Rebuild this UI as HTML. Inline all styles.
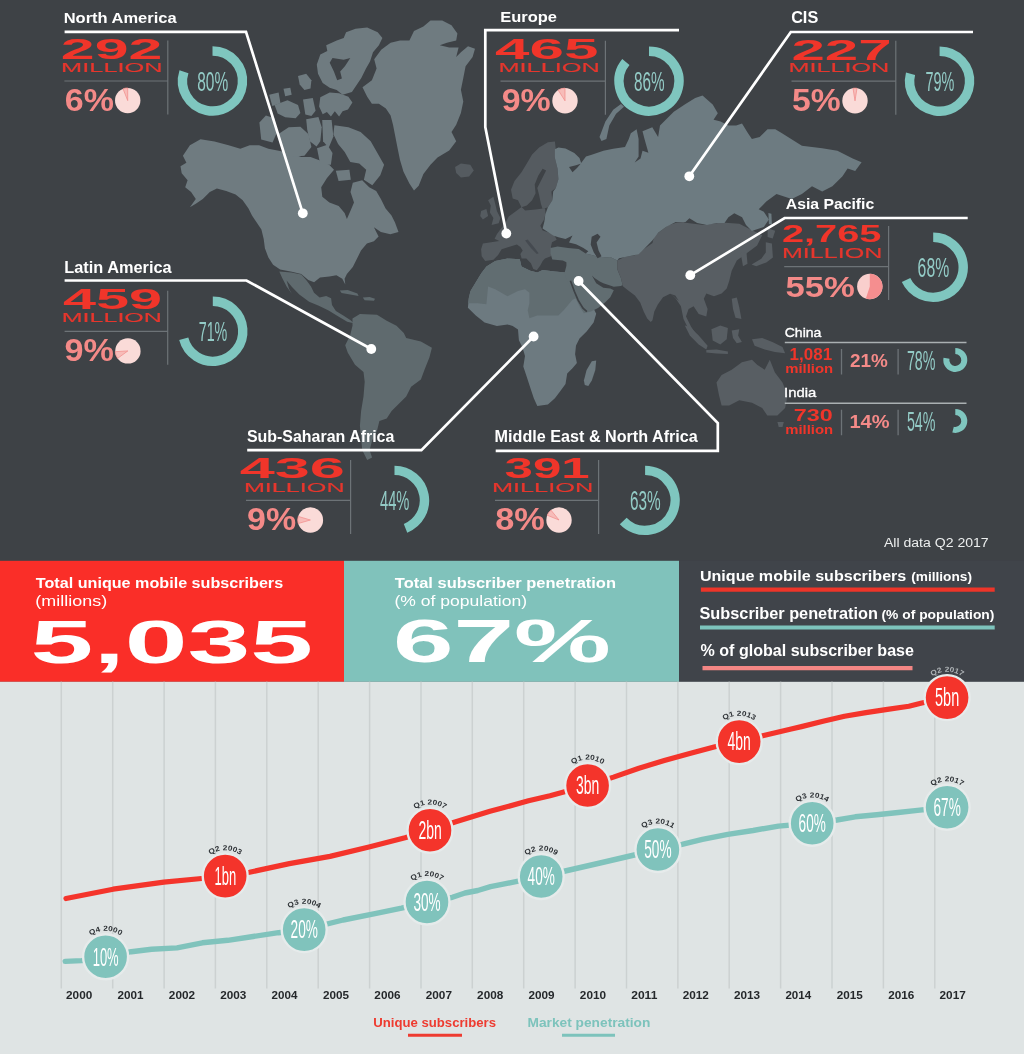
<!DOCTYPE html>
<html><head><meta charset="utf-8"><title>Global mobile subscribers</title>
<style>
html,body{margin:0;padding:0;background:#3e4246;}
body{width:1024px;height:1054px;overflow:hidden;font-family:"Liberation Sans",sans-serif;}
svg{display:block;font-family:"Liberation Sans",sans-serif;will-change:transform;}
</style></head><body>
<svg width="1024" height="1054" viewBox="0 0 1024 1054">
<rect x="0" y="0" width="1024" height="562" fill="#3e4246"/>
<path d="M182.9 155.7L189.9 145.2L200.5 139.3L214.5 141.6L228.6 145.2L240.3 148.7L249.7 145.2L259.1 145.2L268.4 148.7L280.1 151.0L291.9 153.4L301.2 156.9L310.6 156.9L320.0 160.4L329.4 165.1L334.0 169.8L327.0 178.0L321.2 187.3L322.3 196.7L329.4 202.6L338.7 206.1L344.6 213.1L346.9 219.0L350.5 210.8L354.0 202.6L350.5 192.0L352.8 182.7L362.2 180.3L369.2 187.3L376.2 190.9L380.9 199.1L385.6 208.4L391.5 215.5L395.0 222.5L398.5 231.9L390.3 234.2L380.9 231.9L373.9 227.2L378.6 236.6L373.9 241.2L366.9 243.6L361.0 250.6L356.3 260.0L352.8 267.0L346.9 274.0L344.6 278.7L345.3 284.6L342.3 278.7L336.4 275.2L329.4 276.4L320.0 277.6L314.1 282.3L308.3 279.9L301.2 274.0L291.9 271.7L280.1 269.4L273.1 264.7L268.4 257.6L264.9 248.3L263.7 238.9L261.4 229.5L256.7 222.5L252.0 215.5L248.5 208.4L242.7 200.2L235.6 194.4L226.2 190.9L216.9 188.5L209.8 192.0L202.8 199.1L195.8 203.7L189.9 207.3L195.8 199.1L191.1 192.0L185.2 187.3L187.6 180.3L181.7 173.3L180.5 166.2L186.4 162.7Z" fill="#6f7b80" />
<path d="M362.5 87.3L371.9 80.3L376.6 68.6L374.2 59.2L381.2 49.8L390.6 42.8L400.0 40.5L409.4 40.5L414.0 31.1L423.4 26.4L430.5 20.5L442.2 20.5L451.5 25.2L457.4 33.4L456.2 40.5L446.9 42.8L439.8 45.2L449.2 47.5L458.6 47.5L456.2 56.9L460.9 52.2L468.0 46.3L475.0 48.7L472.6 56.9L465.6 66.2L463.3 78.0L460.9 89.7L463.3 101.4L460.9 113.1L456.2 124.8L451.5 131.9L456.2 141.2L449.2 150.6L437.5 157.6L430.5 164.7L423.4 174.0L418.7 185.8L414.0 190.5L409.4 183.4L403.5 171.7L400.0 160.0L397.6 148.3L395.3 136.6L393.0 124.8L390.6 115.5L385.9 108.4L378.9 103.7L371.9 103.7L367.2 96.7Z" fill="#6f7b80" />
<path d="M346.1 32.3L355.5 28.7L367.2 27.6L377.7 32.3L382.4 38.1L378.9 45.2L373.0 52.2L370.0 61.6L366.0 68.6L361.3 78.0L356.6 85.0L351.9 92.0L342.6 94.8L336.7 90.1L329.7 87.8L322.7 83.1L318.0 73.7L316.8 64.4L320.3 54.5L327.3 51.0L326.2 45.2L336.7 40.5L343.7 38.1Z" fill="#6f7b80" />
<path d="M332.5 58.0L343.7 59.7L350.3 58.0L344.9 66.2L340.2 71.4L341.9 78.4L337.2 80.3L333.9 71.4L329.7 62.7Z" fill="#3e4246" />
<path d="M320.3 97.2L329.7 92.5L339.1 93.2L348.4 96.7L352.4 102.6L348.0 109.6L342.6 111.2L339.1 116.6L334.8 111.2L330.9 116.6L326.9 111.9L322.7 114.3L319.1 106.6Z" fill="#6f7b80" />
<path d="M298.0 76.1L306.2 73.7L311.4 80.3L310.5 88.5L304.4 90.1L299.7 84.5Z" fill="#6f7b80" />
<path d="M283.5 88.7L290.3 87.8L291.7 94.8L285.2 96.2Z" fill="#6f7b80" />
<path d="M269.2 94.8L278.6 92.5L280.5 103.3L272.3 106.1Z" fill="#6f7b80" />
<path d="M274.6 104.9L287.5 100.2L298.0 104.9L300.4 113.1L295.7 118.3L285.2 117.3L277.7 113.6Z" fill="#6f7b80" />
<path d="M303.0 99.5L312.8 98.1L315.6 110.8L311.4 115.9L305.3 114.5Z" fill="#6f7b80" />
<path d="M259.4 122.5L265.9 115.5L274.4 118.3L277.2 131.9L272.5 142.6L261.2 139.4Z" fill="#6f7b80" />
<path d="M278.1 134.2L288.7 127.2L300.4 126.7L308.6 134.2L311.4 147.1L304.4 155.8L290.3 156.7L281.6 148.7Z" fill="#6f7b80" />
<path d="M306.2 119.2L318.4 116.9L321.7 127.2L320.3 141.2L316.6 146.4L309.8 141.2L307.2 129.5Z" fill="#6f7b80" />
<path d="M322.2 120.1L331.6 120.1L333.4 136.6L328.7 147.8L323.1 141.2Z" fill="#6f7b80" />
<path d="M334.4 125.3L348.4 127.2L360.6 131.9L370.7 141.2L377.7 153.4L384.1 164.7L380.3 175.2L372.3 185.3L363.9 179.7L366.2 169.8L359.2 163.5L350.3 161.9L344.7 152.0L338.1 144.1L333.4 134.2Z" fill="#6f7b80" />
<path d="M335.8 170.8L349.4 169.8L350.8 179.7L338.6 181.1Z" fill="#6f7b80" />
<path d="M317.0 148.3L327.3 144.8L332.5 153.0L330.9 164.7L320.3 164.7Z" fill="#6f7b80" />
<path d="M455.1 167.0L460.9 163.5L470.3 164.7L473.8 170.5L469.1 176.4L460.9 177.6L456.2 172.9Z" fill="#555b60" />
<path d="M279.3 271.5L291.5 272.5L301.3 274.4L306.6 280.5L311.0 286.6L314.0 292.7L319.6 297.6L326.2 295.9L331.1 298.3L332.0 304.9L335.9 311.0L343.3 315.4L350.6 320.3L353.8 323.2L347.2 321.8L338.4 316.4L328.6 310.5L318.8 305.7L309.1 301.8L299.3 294.4L292.0 287.1L286.6 280.5L289.1 289.1L292.0 293.9L286.6 286.6L282.2 278.1Z" fill="#5f6a6e" />
<path d="M339.8 290.5L347.7 290.0L357.4 293.5L358.6 295.9L350.1 294.4L341.6 293.0Z" fill="#5f6a6e" />
<path d="M362.8 297.4L369.6 296.9L375.0 298.8L374.0 300.8L364.7 300.3Z" fill="#5f6a6e" />
<path d="M352.5 318.4L359.9 314.0L377.0 314.7L386.7 320.8L396.5 325.7L403.8 333.0L406.2 337.9L420.9 341.6L431.9 347.7L429.4 357.4L424.6 369.6L420.9 379.4L411.1 386.7L406.2 396.5L398.9 403.8L391.6 411.1L386.7 418.5L379.4 420.9L377.0 430.7L372.1 440.4L369.6 450.2L372.1 457.5L367.2 460.0L362.3 450.2L361.1 438.0L359.9 425.8L361.1 411.1L363.5 396.5L364.7 381.8L363.5 372.1L355.0 364.7L347.7 352.5L345.2 345.2L350.1 335.4L352.5 325.7Z" fill="#5f6a6e" />
<path d="M486.4 266.4L495.2 261.1L507.5 258.5L519.8 259.3L521.5 266.4L530.3 270.8L537.3 272.5L542.6 269.9L554.9 271.6L565.5 272.5L572.5 280.4L574.3 291.0L576.9 298.0L581.3 305.0L586.6 310.3L593.6 308.6L596.2 313.8L593.6 322.6L586.6 331.4L579.5 338.4L576.0 345.5L575.1 354.3L576.9 363.0L572.5 368.3L567.2 373.6L565.5 384.1L560.2 391.2L554.9 398.2L547.9 404.4L537.3 406.1L533.8 398.2L530.3 387.7L526.8 377.1L523.3 366.6L525.0 356.0L522.4 347.2L518.9 340.2L518.0 329.6L512.7 326.1L507.5 324.4L496.9 326.1L484.6 322.6L475.8 315.6L467.9 307.7L468.8 298.0L470.5 291.0L475.8 282.2L481.1 273.4Z" fill="#6d7a80" />
<path d="M486.4 266.4L495.2 261.1L507.5 258.5L519.8 259.3L521.5 266.4L530.3 270.8L537.3 272.5L542.6 269.9L554.9 271.6L565.5 272.5L572.5 280.4L574.3 291.0L576.4 298.0L572.5 299.8L568.1 305.0L563.7 310.3L558.4 315.6L547.9 315.6L537.3 315.6L529.4 318.2L527.7 310.3L529.4 303.3L529.4 292.7L525.0 289.2L518.0 291.0L507.5 296.2L495.2 289.2L488.1 286.6L486.4 304.2L477.6 303.3L468.1 303.3L468.8 298.0L470.5 291.0L475.8 282.2L481.1 273.4Z" fill="#616d71" />
<path d="M583.9 380.6L586.6 370.1L591.8 361.3L596.2 360.4L595.3 370.1L591.8 380.6L588.3 385.9L584.8 385.0Z" fill="#6d7a80" />
<path d="M511.0 189.8L514.5 181.0L521.5 172.2L526.8 163.4L532.1 154.6L539.1 147.6L547.9 142.3L554.9 141.4L555.8 149.3L554.9 158.1L557.6 168.7L558.4 179.2L555.8 188.0L551.4 191.5L552.3 200.3L547.9 207.3L542.6 209.1L540.9 203.8L539.1 195.0L537.3 188.0L542.6 177.5L546.1 170.4L542.6 168.7L538.2 175.7L534.7 184.5L535.6 193.3L532.1 200.3L526.8 205.6L521.5 207.3L518.0 200.3L512.7 198.6Z" fill="#555b60" />
<path d="M508.7 216.4L516.9 210.5L521.6 207.0L525.1 210.5L535.6 209.4L545.0 208.2L545.6 214.1L543.8 219.9L540.3 225.8L542.7 230.5L549.7 232.8L554.4 235.2L556.7 239.8L552.0 242.2L550.9 246.9L552.0 251.6L550.9 256.3L545.0 258.6L542.7 260.9L540.3 265.6L536.8 270.3L533.3 269.1L530.9 263.3L526.3 258.6L521.6 258.6L520.4 253.9L522.7 250.4L520.4 246.9L516.9 244.5L508.7 246.9L501.6 249.2L498.1 255.1L493.4 259.8L485.2 260.9L481.7 256.3L481.1 249.2L482.9 243.4L491.1 242.2L499.3 241.0L494.6 238.7L497.0 234.0L500.5 229.3L505.2 223.4Z" fill="#555b60" />
<path d="M525.1 240.4L527.7 239.6L533.9 246.9L538.6 253.3L536.8 254.1L530.9 248.0Z" fill="#454a50" />
<path d="M488.1 200.3L493.4 196.8L495.2 203.8L496.9 210.9L500.4 217.9L498.7 223.2L491.6 224.9L493.4 217.9L489.9 212.6L490.8 205.6Z" fill="#555b60" />
<path d="M481.1 210.9L486.4 209.1L488.1 216.1L482.9 219.6L480.2 216.1Z" fill="#555b60" />
<path d="M550.5 248.1L557.6 246.4L568.1 248.1L578.7 249.0L585.7 253.4L592.7 255.2L601.5 257.8L610.3 256.9L617.3 260.4L617.3 269.2L620.9 278.0L622.6 285.0L620.9 285.9L613.8 286.8L608.6 285.0L603.3 283.3L599.8 281.5L594.5 278.0L591.9 275.4L596.2 283.3L603.3 287.7L610.3 288.6L613.8 290.3L610.3 297.3L605.0 302.6L598.0 307.9L591.0 311.4L583.9 313.2L580.4 307.9L576.9 300.9L573.4 293.8L569.9 286.8L566.4 279.8L564.6 272.7L566.4 265.7L566.4 262.2L562.9 260.4L552.3 259.6L550.5 253.4Z" fill="#616d71" />
<path d="M617.3 260.4L624.4 256.9L634.9 255.2L640.2 251.6L645.5 248.1L652.5 242.9L654.3 235.8L661.3 230.5L668.3 225.3L677.1 222.6L685.9 221.8L683.5 222.5L703.8 225.1L721.6 222.5L739.3 223.8L752.0 230.2L762.2 235.2L757.1 245.4L747.0 253.0L736.8 260.6L731.7 270.8L729.2 280.9L726.7 288.6L721.6 293.6L714.0 296.2L706.3 293.6L703.8 298.7L707.6 308.9L706.3 316.5L698.7 314.0L693.6 306.3L688.6 308.9L686.0 316.5L691.1 326.7L696.2 334.3L688.6 329.2L683.5 319.0L680.9 306.3L675.9 298.7L670.8 293.6L678.9 300.9L675.3 295.6L670.1 293.8L663.0 297.3L657.8 304.4L654.3 311.4L652.5 320.2L650.7 322.0L647.2 318.4L643.7 311.4L640.2 302.6L634.9 295.6L627.9 290.3L622.6 285.9L622.6 285.0L620.9 278.0L617.3 269.2Z" fill="#585e63" />
<path d="M740.4 251.9L746.5 252.4L747.5 263.8L743.0 266.3Z" fill="#585e63" />
<path d="M765.8 242.2L771.9 243.5L772.9 257.4L766.3 262.5L756.2 266.3L751.6 264.6L761.3 258.7L765.8 252.4Z" fill="#585e63" />
<path d="M767.6 228.2L775.2 230.8L772.7 238.4L767.6 237.1Z" fill="#585e63" />
<path d="M731.7 298.7L736.8 297.5L739.3 307.6L741.4 319.0L735.5 317.8L733.0 308.9Z" fill="#585e63" />
<path d="M684.8 325.4L689.8 326.7L698.7 335.5L707.6 345.7L706.3 349.5L698.7 344.4L689.8 335.5Z" fill="#585e63" />
<path d="M711.4 329.2L720.3 325.4L727.9 327.9L726.7 339.3L720.3 344.4L712.7 340.6Z" fill="#585e63" />
<path d="M706.3 350.0L716.5 349.5L727.9 351.5L727.9 354.1L716.5 353.6L706.3 352.6Z" fill="#585e63" />
<path d="M731.7 330.5L739.3 329.2L738.1 335.5L741.9 341.9L736.8 343.2L733.0 338.1Z" fill="#585e63" />
<path d="M752.0 339.3L762.2 338.1L772.4 341.9L782.5 347.0L785.1 353.3L774.9 352.0L764.7 349.5L754.6 345.7Z" fill="#585e63" />
<path d="M716.5 382.5L721.6 374.9L731.7 369.8L741.9 362.2L752.0 359.7L757.1 364.7L764.7 369.8L769.8 359.7L774.9 372.4L782.5 382.5L787.6 395.2L785.1 407.9L777.4 415.5L767.3 415.5L762.2 407.9L752.0 402.8L739.3 400.3L729.2 405.4L721.6 405.4L719.0 395.2Z" fill="#585e63" />
<path d="M777.4 421.9L783.8 421.9L782.5 427.0L778.7 427.0Z" fill="#585e63" />
<path d="M570.4 280.8L574.3 291.3L578.1 300.1L583.0 308.2L586.9 311.7" fill="none" stroke="#3e4246" stroke-width="1.7"/>
<path d="M554.9 149.3L558.4 147.6L565.5 148.5L574.3 152.9L579.5 158.1L581.3 163.4L576.0 165.2L569.0 166.9L572.5 172.2L577.0 168.0L580.0 164.5L586.0 156.6L591.7 154.7L603.4 150.8L613.2 148.8L625.0 146.9L628.8 139.0L630.8 133.2L636.6 129.3L638.6 139.0L638.6 156.6L634.7 162.5L640.5 158.6L642.5 150.8L648.4 152.7L644.5 139.0L642.5 131.2L652.3 127.3L658.1 137.1L660.0 125.4L666.0 119.5L673.8 111.7L685.5 103.9L695.2 98.0L702.5 95.5L712.7 104.4L717.8 113.3L712.7 121.0L705.0 123.4L712.8 119.5L720.6 121.5L728.4 125.4L736.2 125.4L742.0 123.4L748.0 133.2L751.9 139.0L759.7 137.1L767.5 129.3L775.3 129.3L781.6 133.0L801.9 145.7L822.2 148.2L837.4 150.8L852.7 158.4L861.6 162.2L855.2 171.1L847.6 168.6L842.5 176.2L832.4 186.3L822.2 191.4L812.0 186.3L801.9 194.0L791.7 199.0L776.5 194.0L766.3 201.6L758.7 209.2L763.8 211.7L768.9 219.4L763.8 227.0L756.2 229.5L751.9 230.9L746.0 225.0L742.1 217.2L734.3 213.3L728.4 217.2L724.5 223.0L716.7 223.0L707.0 225.0L697.2 223.0L689.4 218.2L685.5 222.0L675.7 222.0L665.9 227.0L658.1 232.8L652.3 240.6L644.5 248.4L638.6 254.3L628.8 256.2L619.0 258.2L617.3 260.4L610.3 256.9L601.5 257.8L592.7 255.2L585.7 253.4L588.3 251.3L583.0 247.8L576.0 244.3L569.0 242.5L572.5 235.5L565.5 239.0L558.4 237.2L553.2 235.5L547.9 232.0L542.6 228.4L544.4 221.4L545.3 214.4L547.9 207.3L552.3 200.3L553.2 191.5L555.8 188.0L558.4 179.2L557.6 168.7L554.9 158.1Z" fill="#6d7b81" />
<path d="M591.7 236.7L597.6 233.8L600.5 236.7L596.6 242.6L598.6 250.4L601.5 256.2L597.6 258.2L593.7 252.3L590.7 244.5Z" fill="#3e4246" />
<path d="M599.5 137.1L605.4 121.5L613.2 109.8L621.0 103.9L624.0 106.8L616.1 113.7L609.3 125.4L606.4 139.0L601.5 141.0Z" fill="#6d7b81" />
<path d="M768.4 213.0L771.4 213.8L771.9 224.4L768.9 223.9Z" fill="#6d7b81" />
<path d="M64.6 31.9L246.0 31.9L302.8 213.3" fill="none" stroke="#fff" stroke-width="2.7" stroke-linejoin="miter"/>
<circle cx="302.8" cy="213.3" r="4.9" fill="#fff"/>
<path d="M679.0 30.1L485.3 30.1L485.3 127.0L506.3 233.5" fill="none" stroke="#fff" stroke-width="2.7" stroke-linejoin="miter"/>
<circle cx="506.3" cy="233.5" r="4.9" fill="#fff"/>
<path d="M973.0 32.0L790.8 32.0L689.3 176.3" fill="none" stroke="#fff" stroke-width="2.7" stroke-linejoin="miter"/>
<circle cx="689.3" cy="176.3" r="4.9" fill="#fff"/>
<path d="M967.7 218.0L784.6 218.0L690.3 275.2" fill="none" stroke="#fff" stroke-width="2.7" stroke-linejoin="miter"/>
<circle cx="690.3" cy="275.2" r="4.9" fill="#fff"/>
<path d="M64.6 280.5L246.5 280.5L371.3 349.0" fill="none" stroke="#fff" stroke-width="2.7" stroke-linejoin="miter"/>
<circle cx="371.3" cy="349" r="4.9" fill="#fff"/>
<path d="M247.2 450.2L421.4 450.2L533.6 336.5" fill="none" stroke="#fff" stroke-width="2.7" stroke-linejoin="miter"/>
<circle cx="533.6" cy="336.5" r="4.9" fill="#fff"/>
<path d="M495.7 450.9L717.8 450.9L717.8 423.0L578.6 281.0" fill="none" stroke="#fff" stroke-width="2.7" stroke-linejoin="miter"/>
<circle cx="578.6" cy="281" r="4.9" fill="#fff"/>
<text x="63.69" y="22.50" font-size="15.45" fill="#ffffff" font-weight="bold" textLength="112.91" lengthAdjust="spacingAndGlyphs">North America</text>
<text x="60.87" y="59.11" font-size="29.26" fill="#f0352a" font-weight="bold" textLength="101.53" lengthAdjust="spacingAndGlyphs">292</text>
<text x="61.11" y="72.17" font-size="13.43" fill="#e5362d" textLength="101.45" lengthAdjust="spacingAndGlyphs" stroke="#e5362d" stroke-width="0.15">MILLION</text>
<path d="M64.4 81.0H167.8M167.8 40.5V114.5" stroke="#6d7377" stroke-width="1.2" fill="none"/>
<text x="64.83" y="110.59" font-size="30.53" fill="#f48a88" font-weight="bold" textLength="49.12" lengthAdjust="spacingAndGlyphs">6%</text>
<circle cx="127.7" cy="100.6" r="12.7" fill="#fadbd8"/>
<path d="M127.7 100.6L123.02 88.79A12.7 12.7 0 0 1 127.70 87.90Z" fill="#f7bcb9" stroke="#f08a88" stroke-width="0.7"/>
<path d="M212.50 51.00A30.0 30.0 0 1 1 183.97 71.73" fill="none" stroke="#7fc6bf" stroke-width="9.4"/>
<text x="197.25" y="90.90" font-size="28" fill="#93cbc6" textLength="30.9" lengthAdjust="spacingAndGlyphs">80%</text>
<text x="500.29" y="22.40" font-size="14.84" fill="#ffffff" font-weight="bold" textLength="56.75" lengthAdjust="spacingAndGlyphs">Europe</text>
<text x="494.97" y="59.31" font-size="29.26" fill="#f0352a" font-weight="bold" textLength="103.40" lengthAdjust="spacingAndGlyphs">465</text>
<text x="498.41" y="72.37" font-size="13.43" fill="#e5362d" textLength="101.45" lengthAdjust="spacingAndGlyphs" stroke="#e5362d" stroke-width="0.15">MILLION</text>
<path d="M500.5 81.2H605.4M605.4 40.7V114.7" stroke="#6d7377" stroke-width="1.2" fill="none"/>
<text x="501.71" y="110.79" font-size="30.53" fill="#f48a88" font-weight="bold" textLength="49.03" lengthAdjust="spacingAndGlyphs">9%</text>
<circle cx="565" cy="100.80000000000001" r="12.7" fill="#fadbd8"/>
<path d="M565 100.80000000000001L558.19 90.08A12.7 12.7 0 0 1 565.00 88.10Z" fill="#f7bcb9" stroke="#f08a88" stroke-width="0.7"/>
<path d="M649.00 51.20A30.0 30.0 0 1 1 625.88 62.08" fill="none" stroke="#7fc6bf" stroke-width="9.4"/>
<text x="633.90" y="91.10" font-size="28" fill="#93cbc6" textLength="30.6" lengthAdjust="spacingAndGlyphs">86%</text>
<text x="791.15" y="22.50" font-size="16.06" fill="#ffffff" font-weight="bold" textLength="27.09" lengthAdjust="spacingAndGlyphs">CIS</text>
<text x="791.40" y="59.60" font-size="29.68" fill="#f0352a" font-weight="bold" textLength="100.22" lengthAdjust="spacingAndGlyphs">227</text>
<text x="788.42" y="72.37" font-size="13.43" fill="#e5362d" textLength="100.82" lengthAdjust="spacingAndGlyphs" stroke="#e5362d" stroke-width="0.15">MILLION</text>
<path d="M791.5 81.2H895.8M895.8 40.7V114.7" stroke="#6d7377" stroke-width="1.2" fill="none"/>
<text x="792.09" y="110.79" font-size="30.64" fill="#f48a88" font-weight="bold" textLength="48.65" lengthAdjust="spacingAndGlyphs">5%</text>
<circle cx="855" cy="100.80000000000001" r="12.7" fill="#fadbd8"/>
<path d="M855 100.80000000000001L853.01 88.26A12.7 12.7 0 0 1 856.99 88.26Z" fill="#f7bcb9" stroke="#f08a88" stroke-width="0.7"/>
<path d="M939.60 51.20A30.0 30.0 0 1 1 910.54 73.74" fill="none" stroke="#7fc6bf" stroke-width="9.4"/>
<text x="925.40" y="91.10" font-size="28" fill="#93cbc6" textLength="28.8" lengthAdjust="spacingAndGlyphs">79%</text>
<text x="785.81" y="208.60" font-size="15.45" fill="#ffffff" font-weight="bold" textLength="88.46" lengthAdjust="spacingAndGlyphs">Asia Pacific</text>
<text x="781.91" y="241.95" font-size="23.87" fill="#f0352a" font-weight="bold" textLength="99.49" lengthAdjust="spacingAndGlyphs">2,765</text>
<text x="781.93" y="258.46" font-size="14.42" fill="#e5362d" textLength="100.41" lengthAdjust="spacingAndGlyphs" stroke="#e5362d" stroke-width="0.15">MILLION</text>
<path d="M784.2 266.6H888.6M888.6 226.10000000000002V300.1" stroke="#6d7377" stroke-width="1.2" fill="none"/>
<text x="785.46" y="296.70" font-size="29.79" fill="#f48a88" font-weight="bold" textLength="69.36" lengthAdjust="spacingAndGlyphs">55%</text>
<circle cx="869.8" cy="286.5" r="12.7" fill="#f9cfcd"/>
<path d="M869.8 286.5L869.80 273.80A12.7 12.7 0 1 1 865.88 298.58Z" fill="#f58e8f"/>
<path d="M933.20 237.30A30.0 30.0 0 1 1 906.06 280.07" fill="none" stroke="#7fc6bf" stroke-width="9.4"/>
<text x="917.60" y="277.20" font-size="28" fill="#93cbc6" textLength="31.6" lengthAdjust="spacingAndGlyphs">68%</text>
<text x="64.20" y="272.50" font-size="15.59" fill="#ffffff" font-weight="bold" textLength="107.40" lengthAdjust="spacingAndGlyphs">Latin America</text>
<text x="62.91" y="309.41" font-size="29.26" fill="#f0352a" font-weight="bold" textLength="99.13" lengthAdjust="spacingAndGlyphs">459</text>
<text x="61.73" y="322.47" font-size="13.43" fill="#e5362d" textLength="100.20" lengthAdjust="spacingAndGlyphs" stroke="#e5362d" stroke-width="0.15">MILLION</text>
<path d="M64.6 331.3H167.7M167.7 290.8V364.8" stroke="#6d7377" stroke-width="1.2" fill="none"/>
<text x="64.61" y="360.89" font-size="30.53" fill="#f48a88" font-weight="bold" textLength="49.35" lengthAdjust="spacingAndGlyphs">9%</text>
<circle cx="127.9" cy="350.90000000000003" r="12.7" fill="#fadbd8"/>
<path d="M127.9 350.90000000000003L117.63 358.36A12.7 12.7 0 0 1 115.23 351.70Z" fill="#f7bcb9" stroke="#f08a88" stroke-width="0.7"/>
<path d="M212.80 301.30A30.0 30.0 0 1 1 183.74 338.76" fill="none" stroke="#7fc6bf" stroke-width="9.4"/>
<text x="198.70" y="341.20" font-size="28" fill="#93cbc6" textLength="28.6" lengthAdjust="spacingAndGlyphs">71%</text>
<text x="246.92" y="442.00" font-size="15.59" fill="#ffffff" font-weight="bold" textLength="147.47" lengthAdjust="spacingAndGlyphs">Sub-Saharan Africa</text>
<text x="239.76" y="478.44" font-size="29.15" fill="#f0352a" font-weight="bold" textLength="105.11" lengthAdjust="spacingAndGlyphs">436</text>
<text x="243.92" y="491.57" font-size="13.43" fill="#e5362d" textLength="100.72" lengthAdjust="spacingAndGlyphs" stroke="#e5362d" stroke-width="0.15">MILLION</text>
<path d="M246 500.4H350.6M350.6 459.9V533.9" stroke="#6d7377" stroke-width="1.2" fill="none"/>
<text x="247.11" y="529.99" font-size="30.53" fill="#f48a88" font-weight="bold" textLength="49.03" lengthAdjust="spacingAndGlyphs">9%</text>
<circle cx="310.4" cy="520.0" r="12.7" fill="#fadbd8"/>
<path d="M310.4 520.0L298.19 523.50A12.7 12.7 0 0 1 298.22 516.41Z" fill="#f7bcb9" stroke="#f08a88" stroke-width="0.7"/>
<path d="M394.50 470.40A30.0 30.0 0 0 1 405.54 528.29" fill="none" stroke="#7fc6bf" stroke-width="9.4"/>
<text x="380.00" y="510.30" font-size="28" fill="#93cbc6" textLength="29.4" lengthAdjust="spacingAndGlyphs">44%</text>
<text x="494.61" y="442.00" font-size="15.59" fill="#ffffff" font-weight="bold" textLength="203.19" lengthAdjust="spacingAndGlyphs">Middle East &amp; North Africa</text>
<text x="504.55" y="478.44" font-size="29.15" fill="#f0352a" font-weight="bold" textLength="85.21" lengthAdjust="spacingAndGlyphs">391</text>
<text x="491.91" y="491.57" font-size="13.43" fill="#e5362d" textLength="101.34" lengthAdjust="spacingAndGlyphs" stroke="#e5362d" stroke-width="0.15">MILLION</text>
<path d="M495 500.4H598.6M598.6 459.9V533.9" stroke="#6d7377" stroke-width="1.2" fill="none"/>
<text x="495.19" y="529.99" font-size="30.53" fill="#f48a88" font-weight="bold" textLength="49.57" lengthAdjust="spacingAndGlyphs">8%</text>
<circle cx="559" cy="520.0" r="12.7" fill="#fadbd8"/>
<path d="M559 520.0L547.22 515.24A12.7 12.7 0 0 1 550.97 510.16Z" fill="#f7bcb9" stroke="#f08a88" stroke-width="0.7"/>
<path d="M645.10 470.40A30.0 30.0 0 1 1 623.23 520.94" fill="none" stroke="#7fc6bf" stroke-width="9.4"/>
<text x="629.95" y="510.30" font-size="28" fill="#93cbc6" textLength="30.7" lengthAdjust="spacingAndGlyphs">63%</text>
<text x="784.70" y="336.50" font-size="13.38" fill="#ffffff" textLength="36.71" lengthAdjust="spacingAndGlyphs" stroke="#fff" stroke-width="0.35">China</text>
<path d="M784.8 342.4H966.5" stroke="#aab0b2" stroke-width="1.5"/>
<text x="789.64" y="360.00" font-size="15.91" fill="#f0352a" font-weight="bold" textLength="42.53" lengthAdjust="spacingAndGlyphs">1,081</text>
<text x="785.23" y="373.17" font-size="12.79" fill="#f0352a" font-weight="bold" textLength="47.96" lengthAdjust="spacingAndGlyphs">million</text>
<path d="M841.5 348.9V374.4M898.1 348.9V374.4" stroke="#6d7377" stroke-width="1.3"/>
<text x="850.04" y="366.66" font-size="18.01" fill="#f48a88" font-weight="bold" textLength="37.86" lengthAdjust="spacingAndGlyphs">21%</text>
<text x="906.90" y="369.90" font-size="27" fill="#93cbc6" textLength="28.5" lengthAdjust="spacingAndGlyphs">78%</text>
<path d="M955.30 351.00A9.0 9.0 0 1 1 946.46 358.31" fill="none" stroke="#7fc6bf" stroke-width="6.0"/>
<text x="784.03" y="397.40" font-size="13.38" fill="#ffffff" textLength="32.19" lengthAdjust="spacingAndGlyphs" stroke="#fff" stroke-width="0.35">India</text>
<path d="M784.8 403.3H966.5" stroke="#aab0b2" stroke-width="1.5"/>
<text x="793.71" y="420.90" font-size="15.91" fill="#f0352a" font-weight="bold" textLength="38.95" lengthAdjust="spacingAndGlyphs">730</text>
<text x="785.23" y="434.07" font-size="12.79" fill="#f0352a" font-weight="bold" textLength="47.96" lengthAdjust="spacingAndGlyphs">million</text>
<path d="M841.5 409.8V435.3M898.1 409.8V435.3" stroke="#6d7377" stroke-width="1.3"/>
<text x="849.45" y="427.56" font-size="18.08" fill="#f48a88" font-weight="bold" textLength="40.08" lengthAdjust="spacingAndGlyphs">14%</text>
<text x="906.90" y="430.80" font-size="27" fill="#93cbc6" textLength="28.5" lengthAdjust="spacingAndGlyphs">54%</text>
<path d="M955.30 411.90A9.0 9.0 0 1 1 953.06 429.62" fill="none" stroke="#7fc6bf" stroke-width="6.0"/>
<text x="883.96" y="547.40" font-size="11.86" fill="#eceeee" textLength="104.74" lengthAdjust="spacingAndGlyphs">All data Q2 2017</text>
<rect x="0" y="560.8" width="344" height="121.0" fill="#fa2e28"/>
<rect x="344" y="560.8" width="335" height="121.0" fill="#80c2bb"/>
<rect x="679" y="560.8" width="345" height="121.0" fill="#40444a"/>
<text x="35.84" y="588.30" font-size="15.17" fill="#ffffff" font-weight="bold" textLength="247.31" lengthAdjust="spacingAndGlyphs">Total unique mobile subscribers</text>
<text x="35.38" y="606.34" font-size="14.26" fill="#ffffff" textLength="71.74" lengthAdjust="spacingAndGlyphs">(millions)</text>
<text x="30.61" y="662.50" font-size="60.93" fill="#ffffff" font-weight="bold" textLength="282.50" lengthAdjust="spacingAndGlyphs">5,035</text>
<text x="394.84" y="588.30" font-size="15.17" fill="#ffffff" font-weight="bold" textLength="221.17" lengthAdjust="spacingAndGlyphs">Total subscriber penetration</text>
<text x="394.40" y="606.34" font-size="14.26" fill="#ffffff" textLength="132.70" lengthAdjust="spacingAndGlyphs">(% of population)</text>
<text x="392.92" y="662.29" font-size="60.64" fill="#ffffff" font-weight="bold" textLength="217.97" lengthAdjust="spacingAndGlyphs">67%</text>
<text x="699.94" y="581.25" font-size="15.52" fill="#ffffff" font-weight="bold" textLength="206.34" lengthAdjust="spacingAndGlyphs">Unique mobile subscribers</text>
<text x="911.22" y="580.88" font-size="12.39" fill="#ffffff" font-weight="bold" textLength="60.76" lengthAdjust="spacingAndGlyphs">(millions)</text>
<path d="M700.9 589.7H994.7" stroke="#ee3529" stroke-width="4.2"/>
<text x="699.51" y="619.40" font-size="16.00" fill="#ffffff" font-weight="bold" textLength="178.36" lengthAdjust="spacingAndGlyphs">Subscriber penetration</text>
<text x="881.51" y="618.95" font-size="12.76" fill="#ffffff" font-weight="bold" textLength="112.93" lengthAdjust="spacingAndGlyphs">(% of population)</text>
<path d="M700 627.5H994.7" stroke="#7dc3bc" stroke-width="4.2"/>
<text x="700.50" y="656.40" font-size="15.72" fill="#ffffff" font-weight="bold" textLength="213.45" lengthAdjust="spacingAndGlyphs">% of global subscriber base</text>
<path d="M702.5 668.1H912.5" stroke="#f38684" stroke-width="4.2"/>
<rect x="0" y="681.8" width="1024" height="372.2" fill="#dfe4e4"/>
<path d="M61.3 681.8V988.5M112.7 681.8V988.5M164.1 681.8V988.5M215.4 681.8V988.5M266.8 681.8V988.5M318.2 681.8V988.5M369.6 681.8V988.5M421.0 681.8V988.5M472.3 681.8V988.5M523.7 681.8V988.5M575.1 681.8V988.5M626.5 681.8V988.5M677.9 681.8V988.5M729.2 681.8V988.5M780.6 681.8V988.5M832.0 681.8V988.5M883.4 681.8V988.5M934.8 681.8V988.5" stroke="#ccd1d1" stroke-width="1.5" fill="none"/>
<text x="66.09" y="998.50" font-size="10.04" fill="#25282b" font-weight="bold" textLength="26.21" lengthAdjust="spacingAndGlyphs">2000</text>
<text x="117.47" y="998.50" font-size="10.04" fill="#25282b" font-weight="bold" textLength="26.06" lengthAdjust="spacingAndGlyphs">2001</text>
<text x="168.85" y="998.50" font-size="10.04" fill="#25282b" font-weight="bold" textLength="26.21" lengthAdjust="spacingAndGlyphs">2002</text>
<text x="220.23" y="998.50" font-size="10.04" fill="#25282b" font-weight="bold" textLength="26.15" lengthAdjust="spacingAndGlyphs">2003</text>
<text x="271.61" y="998.50" font-size="10.04" fill="#25282b" font-weight="bold" textLength="25.79" lengthAdjust="spacingAndGlyphs">2004</text>
<text x="322.99" y="998.50" font-size="10.04" fill="#25282b" font-weight="bold" textLength="26.06" lengthAdjust="spacingAndGlyphs">2005</text>
<text x="374.37" y="998.50" font-size="10.04" fill="#25282b" font-weight="bold" textLength="26.15" lengthAdjust="spacingAndGlyphs">2006</text>
<text x="425.75" y="998.50" font-size="10.04" fill="#25282b" font-weight="bold" textLength="26.24" lengthAdjust="spacingAndGlyphs">2007</text>
<text x="477.13" y="998.50" font-size="10.04" fill="#25282b" font-weight="bold" textLength="26.09" lengthAdjust="spacingAndGlyphs">2008</text>
<text x="528.51" y="998.50" font-size="10.04" fill="#25282b" font-weight="bold" textLength="26.15" lengthAdjust="spacingAndGlyphs">2009</text>
<text x="579.89" y="998.50" font-size="10.04" fill="#25282b" font-weight="bold" textLength="26.21" lengthAdjust="spacingAndGlyphs">2010</text>
<text x="631.26" y="998.50" font-size="10.04" fill="#25282b" font-weight="bold" textLength="26.08" lengthAdjust="spacingAndGlyphs">2011</text>
<text x="682.65" y="998.50" font-size="10.04" fill="#25282b" font-weight="bold" textLength="26.21" lengthAdjust="spacingAndGlyphs">2012</text>
<text x="734.03" y="998.50" font-size="10.04" fill="#25282b" font-weight="bold" textLength="26.15" lengthAdjust="spacingAndGlyphs">2013</text>
<text x="785.41" y="998.50" font-size="10.04" fill="#25282b" font-weight="bold" textLength="25.79" lengthAdjust="spacingAndGlyphs">2014</text>
<text x="836.79" y="998.50" font-size="10.04" fill="#25282b" font-weight="bold" textLength="26.06" lengthAdjust="spacingAndGlyphs">2015</text>
<text x="888.17" y="998.50" font-size="10.04" fill="#25282b" font-weight="bold" textLength="26.15" lengthAdjust="spacingAndGlyphs">2016</text>
<text x="939.55" y="998.50" font-size="10.04" fill="#25282b" font-weight="bold" textLength="26.24" lengthAdjust="spacingAndGlyphs">2017</text>
<path d="M66 898.5L113.1 889.2L163.9 882.2L199 878.75L225.2 876.1L249.5 872.2L289.4 863.6L330 856.4L369 847L405 837.7L430 830.3L455 822L490 811.3L503.2 807.8L528.5 800.8L550 795.7L587.6 785.5L613.5 777.1L638.9 768.2L664.3 760.6L689.7 753.5L715 746.7L739.2 741.6L765.8 735L791.2 729L801.5 726.6L823 721.2L844.5 716.3L865.9 712.6L887.4 709.4L908.9 706.2L921.8 703L947.1 697.6" fill="none" stroke="#f4342b" stroke-width="5.2" stroke-linejoin="round" stroke-linecap="round"/>
<path d="M65.2 961.4L81.7 960.6L105.6 956.7L131.3 951.7L151.6 949.2L177 947.9L202.4 942.8L227.8 940.3L253.1 936.5L278.5 932.7L304.2 929.6L343.2 920L376.2 913.3L401.6 908.2L427 902L452.4 897.3L465 893L477.8 890.5L490.5 886.7L503.2 884.1L515.8 881.6L541.2 876.5L600 863L657.9 849.5L682 844.4L702.4 839.4L727.8 834.3L753.1 830.5L778.5 826.1L812.2 823.3L836.9 820L855.2 816.8L876.7 814.7L898.2 812.5L917.5 810.4L947.1 807.2" fill="none" stroke="#80c3bc" stroke-width="5.4" stroke-linejoin="round" stroke-linecap="round"/>
<circle cx="225.2" cy="876.1" r="22.5" fill="#f4342b" stroke="#e6ebeb" stroke-width="2.4"/>
<text x="214.47" y="884.92" font-size="26" fill="#ffffff" textLength="21.7" lengthAdjust="spacingAndGlyphs">1bn</text>
<g font-size="7.3" fill="#2e3236" font-weight="bold"><text transform="translate(212.93 853.29) rotate(-28.3) scale(1.134 1)" text-anchor="middle">Q</text><text transform="translate(218.04 851.21) rotate(-16.1) scale(1.134 1)" text-anchor="middle">2</text><text transform="translate(225.08 850.20) rotate(-0.3) scale(1.134 1)" text-anchor="middle">2</text><text transform="translate(229.66 850.59) rotate(9.9) scale(1.134 1)" text-anchor="middle">0</text><text transform="translate(234.11 851.78) rotate(20.1) scale(1.134 1)" text-anchor="middle">0</text><text transform="translate(238.27 853.74) rotate(30.3) scale(1.134 1)" text-anchor="middle">3</text></g>
<circle cx="430" cy="830.3" r="22.5" fill="#f4342b" stroke="#e6ebeb" stroke-width="2.4"/>
<text x="418.38" y="839.12" font-size="26" fill="#ffffff" textLength="23.3" lengthAdjust="spacingAndGlyphs">2bn</text>
<g font-size="7.3" fill="#2e3236" font-weight="bold"><text transform="translate(417.73 807.49) rotate(-28.3) scale(1.134 1)" text-anchor="middle">Q</text><text transform="translate(422.84 805.41) rotate(-16.1) scale(1.134 1)" text-anchor="middle">1</text><text transform="translate(429.88 804.40) rotate(-0.3) scale(1.134 1)" text-anchor="middle">2</text><text transform="translate(434.46 804.79) rotate(9.9) scale(1.134 1)" text-anchor="middle">0</text><text transform="translate(438.91 805.98) rotate(20.1) scale(1.134 1)" text-anchor="middle">0</text><text transform="translate(443.07 807.94) rotate(30.3) scale(1.134 1)" text-anchor="middle">7</text></g>
<circle cx="587.6" cy="785.5" r="22.5" fill="#f4342b" stroke="#e6ebeb" stroke-width="2.4"/>
<text x="575.98" y="794.32" font-size="26" fill="#ffffff" textLength="23.3" lengthAdjust="spacingAndGlyphs">3bn</text>
<g font-size="7.3" fill="#2e3236" font-weight="bold"><text transform="translate(575.33 762.69) rotate(-28.3) scale(1.134 1)" text-anchor="middle">Q</text><text transform="translate(580.44 760.61) rotate(-16.1) scale(1.134 1)" text-anchor="middle">1</text><text transform="translate(587.48 759.60) rotate(-0.3) scale(1.134 1)" text-anchor="middle">2</text><text transform="translate(592.06 759.99) rotate(9.9) scale(1.134 1)" text-anchor="middle">0</text><text transform="translate(596.51 761.18) rotate(20.1) scale(1.134 1)" text-anchor="middle">1</text><text transform="translate(600.67 763.14) rotate(30.3) scale(1.134 1)" text-anchor="middle">0</text></g>
<circle cx="739.2" cy="741.6" r="22.5" fill="#f4342b" stroke="#e6ebeb" stroke-width="2.4"/>
<text x="727.58" y="750.42" font-size="26" fill="#ffffff" textLength="23.3" lengthAdjust="spacingAndGlyphs">4bn</text>
<g font-size="7.3" fill="#2e3236" font-weight="bold"><text transform="translate(726.93 718.79) rotate(-28.3) scale(1.134 1)" text-anchor="middle">Q</text><text transform="translate(732.04 716.71) rotate(-16.1) scale(1.134 1)" text-anchor="middle">1</text><text transform="translate(739.08 715.70) rotate(-0.3) scale(1.134 1)" text-anchor="middle">2</text><text transform="translate(743.66 716.09) rotate(9.9) scale(1.134 1)" text-anchor="middle">0</text><text transform="translate(748.11 717.28) rotate(20.1) scale(1.134 1)" text-anchor="middle">1</text><text transform="translate(752.27 719.24) rotate(30.3) scale(1.134 1)" text-anchor="middle">3</text></g>
<circle cx="947.1" cy="697.6" r="22.5" fill="#f4342b" stroke="#e6ebeb" stroke-width="2.4"/>
<text x="935.07" y="706.42" font-size="26" fill="#ffffff" textLength="24.1" lengthAdjust="spacingAndGlyphs">5bn</text>
<g font-size="7.3" fill="#aeb3b6" font-weight="bold"><text transform="translate(934.83 674.79) rotate(-28.3) scale(1.134 1)" text-anchor="middle">Q</text><text transform="translate(939.94 672.71) rotate(-16.1) scale(1.134 1)" text-anchor="middle">2</text><text transform="translate(946.98 671.70) rotate(-0.3) scale(1.134 1)" text-anchor="middle">2</text><text transform="translate(951.56 672.09) rotate(9.9) scale(1.134 1)" text-anchor="middle">0</text><text transform="translate(956.01 673.28) rotate(20.1) scale(1.134 1)" text-anchor="middle">1</text><text transform="translate(960.17 675.24) rotate(30.3) scale(1.134 1)" text-anchor="middle">7</text></g>
<circle cx="105.6" cy="956.7" r="22.5" fill="#80c3bc" stroke="#e6ebeb" stroke-width="2.4"/>
<text x="92.68" y="965.52" font-size="26" fill="#ffffff" textLength="26.0" lengthAdjust="spacingAndGlyphs">10%</text>
<g font-size="7.3" fill="#2e3236" font-weight="bold"><text transform="translate(93.33 933.89) rotate(-28.3) scale(1.134 1)" text-anchor="middle">Q</text><text transform="translate(98.44 931.81) rotate(-16.1) scale(1.134 1)" text-anchor="middle">4</text><text transform="translate(105.48 930.80) rotate(-0.3) scale(1.134 1)" text-anchor="middle">2</text><text transform="translate(110.06 931.19) rotate(9.9) scale(1.134 1)" text-anchor="middle">0</text><text transform="translate(114.51 932.38) rotate(20.1) scale(1.134 1)" text-anchor="middle">0</text><text transform="translate(118.67 934.34) rotate(30.3) scale(1.134 1)" text-anchor="middle">0</text></g>
<circle cx="304.2" cy="929.6" r="22.5" fill="#80c3bc" stroke="#e6ebeb" stroke-width="2.4"/>
<text x="290.57" y="938.42" font-size="26" fill="#ffffff" textLength="27.3" lengthAdjust="spacingAndGlyphs">20%</text>
<g font-size="7.3" fill="#2e3236" font-weight="bold"><text transform="translate(291.93 906.79) rotate(-28.3) scale(1.134 1)" text-anchor="middle">Q</text><text transform="translate(297.04 904.71) rotate(-16.1) scale(1.134 1)" text-anchor="middle">3</text><text transform="translate(304.08 903.70) rotate(-0.3) scale(1.134 1)" text-anchor="middle">2</text><text transform="translate(308.66 904.09) rotate(9.9) scale(1.134 1)" text-anchor="middle">0</text><text transform="translate(313.11 905.28) rotate(20.1) scale(1.134 1)" text-anchor="middle">0</text><text transform="translate(317.27 907.24) rotate(30.3) scale(1.134 1)" text-anchor="middle">4</text></g>
<circle cx="427" cy="902" r="22.5" fill="#80c3bc" stroke="#e6ebeb" stroke-width="2.4"/>
<text x="413.38" y="910.82" font-size="26" fill="#ffffff" textLength="27.2" lengthAdjust="spacingAndGlyphs">30%</text>
<g font-size="7.3" fill="#2e3236" font-weight="bold"><text transform="translate(414.73 879.19) rotate(-28.3) scale(1.134 1)" text-anchor="middle">Q</text><text transform="translate(419.84 877.11) rotate(-16.1) scale(1.134 1)" text-anchor="middle">1</text><text transform="translate(426.88 876.10) rotate(-0.3) scale(1.134 1)" text-anchor="middle">2</text><text transform="translate(431.46 876.49) rotate(9.9) scale(1.134 1)" text-anchor="middle">0</text><text transform="translate(435.91 877.68) rotate(20.1) scale(1.134 1)" text-anchor="middle">0</text><text transform="translate(440.07 879.64) rotate(30.3) scale(1.134 1)" text-anchor="middle">7</text></g>
<circle cx="541.2" cy="876.5" r="22.5" fill="#80c3bc" stroke="#e6ebeb" stroke-width="2.4"/>
<text x="527.58" y="885.32" font-size="26" fill="#ffffff" textLength="27.2" lengthAdjust="spacingAndGlyphs">40%</text>
<g font-size="7.3" fill="#2e3236" font-weight="bold"><text transform="translate(528.93 853.69) rotate(-28.3) scale(1.134 1)" text-anchor="middle">Q</text><text transform="translate(534.04 851.61) rotate(-16.1) scale(1.134 1)" text-anchor="middle">2</text><text transform="translate(541.08 850.60) rotate(-0.3) scale(1.134 1)" text-anchor="middle">2</text><text transform="translate(545.66 850.99) rotate(9.9) scale(1.134 1)" text-anchor="middle">0</text><text transform="translate(550.11 852.18) rotate(20.1) scale(1.134 1)" text-anchor="middle">0</text><text transform="translate(554.27 854.14) rotate(30.3) scale(1.134 1)" text-anchor="middle">9</text></g>
<circle cx="657.9" cy="849.5" r="22.5" fill="#80c3bc" stroke="#e6ebeb" stroke-width="2.4"/>
<text x="644.27" y="858.32" font-size="26" fill="#ffffff" textLength="27.3" lengthAdjust="spacingAndGlyphs">50%</text>
<g font-size="7.3" fill="#2e3236" font-weight="bold"><text transform="translate(645.63 826.69) rotate(-28.3) scale(1.134 1)" text-anchor="middle">Q</text><text transform="translate(650.74 824.61) rotate(-16.1) scale(1.134 1)" text-anchor="middle">3</text><text transform="translate(657.78 823.60) rotate(-0.3) scale(1.134 1)" text-anchor="middle">2</text><text transform="translate(662.36 823.99) rotate(9.9) scale(1.134 1)" text-anchor="middle">0</text><text transform="translate(666.81 825.18) rotate(20.1) scale(1.134 1)" text-anchor="middle">1</text><text transform="translate(670.97 827.14) rotate(30.3) scale(1.134 1)" text-anchor="middle">1</text></g>
<circle cx="812.2" cy="823.3" r="22.5" fill="#80c3bc" stroke="#e6ebeb" stroke-width="2.4"/>
<text x="798.58" y="832.12" font-size="26" fill="#ffffff" textLength="27.2" lengthAdjust="spacingAndGlyphs">60%</text>
<g font-size="7.3" fill="#2e3236" font-weight="bold"><text transform="translate(799.93 800.49) rotate(-28.3) scale(1.134 1)" text-anchor="middle">Q</text><text transform="translate(805.04 798.41) rotate(-16.1) scale(1.134 1)" text-anchor="middle">3</text><text transform="translate(812.08 797.40) rotate(-0.3) scale(1.134 1)" text-anchor="middle">2</text><text transform="translate(816.66 797.79) rotate(9.9) scale(1.134 1)" text-anchor="middle">0</text><text transform="translate(821.11 798.98) rotate(20.1) scale(1.134 1)" text-anchor="middle">1</text><text transform="translate(825.27 800.94) rotate(30.3) scale(1.134 1)" text-anchor="middle">4</text></g>
<circle cx="947.1" cy="807.2" r="22.5" fill="#80c3bc" stroke="#e6ebeb" stroke-width="2.4"/>
<text x="933.48" y="816.02" font-size="26" fill="#ffffff" textLength="27.3" lengthAdjust="spacingAndGlyphs">67%</text>
<g font-size="7.3" fill="#2e3236" font-weight="bold"><text transform="translate(934.83 784.39) rotate(-28.3) scale(1.134 1)" text-anchor="middle">Q</text><text transform="translate(939.94 782.31) rotate(-16.1) scale(1.134 1)" text-anchor="middle">2</text><text transform="translate(946.98 781.30) rotate(-0.3) scale(1.134 1)" text-anchor="middle">2</text><text transform="translate(951.56 781.69) rotate(9.9) scale(1.134 1)" text-anchor="middle">0</text><text transform="translate(956.01 782.88) rotate(20.1) scale(1.134 1)" text-anchor="middle">1</text><text transform="translate(960.17 784.84) rotate(30.3) scale(1.134 1)" text-anchor="middle">7</text></g>
<text x="373.21" y="1026.60" font-size="12.97" fill="#ee3b30" font-weight="bold" textLength="122.83" lengthAdjust="spacingAndGlyphs">Unique subscribers</text>
<path d="M408 1035.3H462" stroke="#ee3b30" stroke-width="3"/>
<text x="527.57" y="1026.60" font-size="12.97" fill="#7dc3bc" font-weight="bold" textLength="122.77" lengthAdjust="spacingAndGlyphs">Market penetration</text>
<path d="M562 1035.3H615" stroke="#7dc3bc" stroke-width="3"/>
</svg>
</body></html>
